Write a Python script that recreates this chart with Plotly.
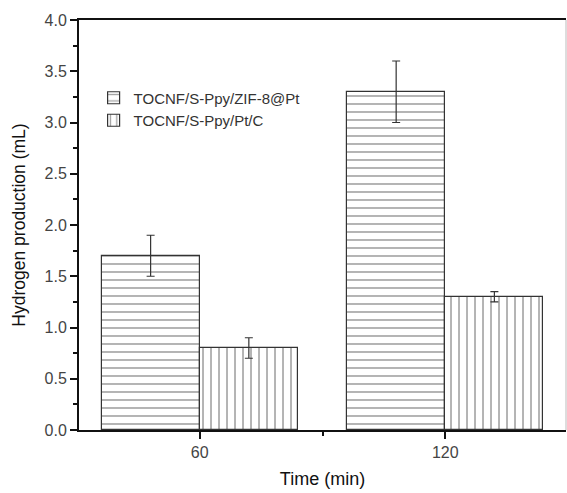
import plotly.graph_objects as go

times = [60, 120]
zif_values = [1.7, 3.3]
zif_errors = [0.2, 0.3]
ptc_values = [0.8, 1.3]
ptc_errors = [0.1, 0.05]
series_names = ["TOCNF/S-Ppy/ZIF-8@Pt", "TOCNF/S-Ppy/Pt/C"]

font_family = "Arial, Liberation Sans, sans-serif"
line_col = "#333"

fig = go.Figure()
fig.add_trace(go.Bar(
    x=times, y=zif_values, name=series_names[0],
    width=24, offset=-24,
    marker=dict(color="white", line=dict(color=line_col, width=1.2),
                pattern=dict(shape="-", size=8, solidity=0.2, fgcolor="#444", bgcolor="white")),
    error_y=dict(type="data", array=zif_errors, color=line_col, thickness=1.2, width=4),
))
fig.add_trace(go.Bar(
    x=times, y=ptc_values, name=series_names[1],
    width=24, offset=0,
    marker=dict(color="white", line=dict(color=line_col, width=1.2),
                pattern=dict(shape="|", size=8, solidity=0.2, fgcolor="#444", bgcolor="white")),
    error_y=dict(type="data", array=ptc_errors, color=line_col, thickness=1.2, width=4),
))

fig.update_layout(
    width=567, height=493,
    margin=dict(l=79, r=1, t=20, b=63),
    plot_bgcolor="white", paper_bgcolor="white",
    font=dict(family=font_family, size=15, color="#333"),
    showlegend=True,
    legend=dict(x=0.03, y=0.85, xanchor="left", yanchor="top",
                bgcolor="rgba(0,0,0,0)", font=dict(size=15, color="#333"),
                tracegroupgap=0, itemwidth=30),
    bargap=0,
)
fig.update_xaxes(
    range=[30.5, 149.5], tickvals=times, ticktext=[str(t) for t in times],
    ticks="outside", ticklen=7, tickwidth=2, tickcolor="#111",
    minor=dict(tickvals=[90], ticks="outside", ticklen=4, tickwidth=1.5, tickcolor="#111"),
    showline=True, linecolor="#111", linewidth=2, mirror=True,
    showgrid=False, zeroline=False,
    title=dict(text="Time (min)", font=dict(size=18, color="#111"), standoff=12),
    tickfont=dict(size=16, color="#444"),
)
fig.update_yaxes(
    range=[0, 4.0], dtick=0.5, tickformat=".1f",
    ticks="outside", ticklen=7, tickwidth=2, tickcolor="#111",
    minor=dict(dtick=0.25, ticks="outside", ticklen=4, tickwidth=1.5, tickcolor="#111"),
    showline=True, linecolor="#111", linewidth=2,
    showgrid=False, zeroline=False,
    title=dict(text="Hydrogen production (mL)", font=dict(size=17.5, color="#111"), standoff=14),
    tickfont=dict(size=16, color="#444"),
)
fig.add_shape(type="line", xref="paper", yref="paper", x0=1, x1=1, y0=0, y1=1,
              line=dict(color="#bbb", width=1))
fig.write_html(
    "out.html",
    config={"displayModeBar": False},
    post_script="document.body.style.margin='0';document.body.style.overflow='hidden';",
)
